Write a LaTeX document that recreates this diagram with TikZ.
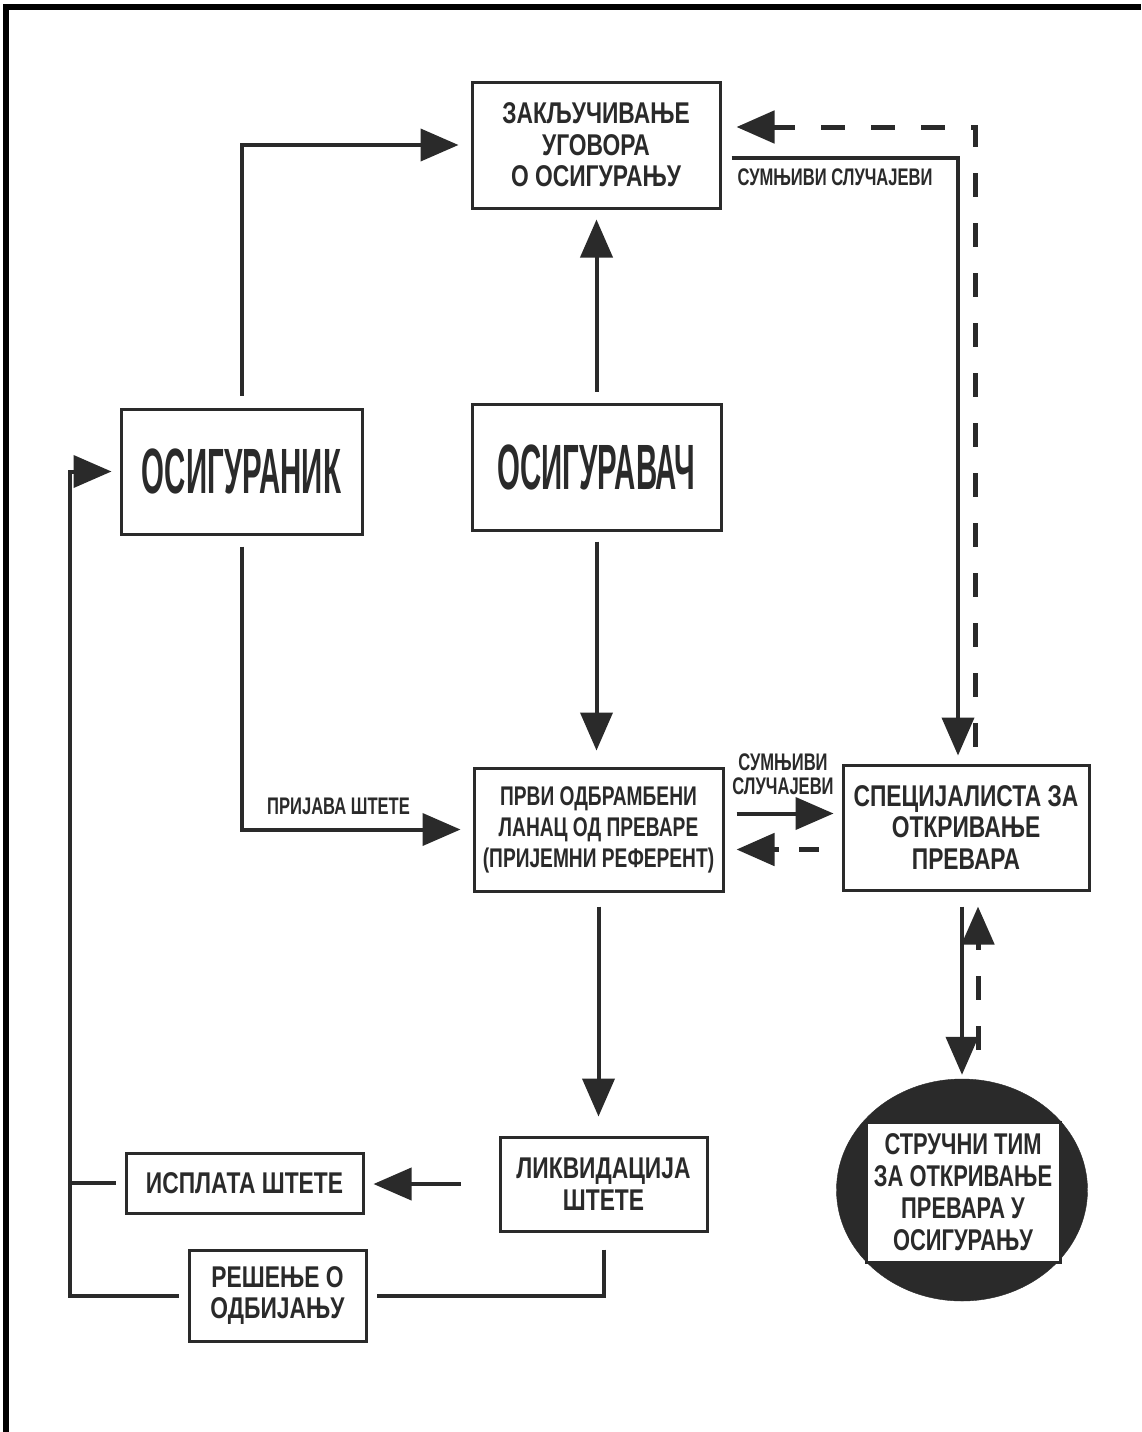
\documentclass[tikz,border=0pt]{standalone}
\usepackage{fontspec}
\setmainfont{Liberation Sans}
\newfontfamily\boxfnt[FakeStretch=0.76]{Liberation Sans}
\newfontfamily\ifnt[FakeStretch=0.73]{Liberation Sans}
\newfontfamily\dfnt[FakeStretch=0.71]{Liberation Sans}
\newfontfamily\bigfnt[FakeStretch=0.46]{Liberation Sans}
\newfontfamily\lblfnt[FakeStretch=0.69]{Liberation Sans}
\usetikzlibrary{arrows.meta,shapes.geometric}
\definecolor{ink}{HTML}{2a2a2a}
\begin{document}
\begin{tikzpicture}[x=1pt,y=-1pt,
  box/.style={draw=ink, line width=3pt, fill=white, align=center, inner sep=0pt, text=ink},
  txt/.style={font={\boxfnt\bfseries\fontsize{30}{31.5}\selectfont}},
  itxt/.style={font={\ifnt\bfseries\fontsize{30}{32}\selectfont}},
  dtxt/.style={font={\dfnt\bfseries\fontsize{27}{31}\selectfont}},
  bigtxt/.style={font={\bigfnt\bfseries\fontsize{64}{64}\selectfont}},
  lbl/.style={font={\lblfnt\bfseries\fontsize{24}{24}\selectfont}, text=ink, inner sep=0pt, align=center},
  conn/.style={draw=ink, line width=4pt, -{Triangle[length=38pt,width=32pt]}},
  dconn/.style={conn, line width=5pt, dash pattern=on 24pt off 26pt},
  pline/.style={draw=ink, line width=4pt},
]
\useasboundingbox (0,0) rectangle (1141,1432);
\fill[white] (0,0) rectangle (1141,1432);
\fill[black] (3,4) rectangle (1141,10);
\fill[black] (3,4) rectangle (9,1432);

\node[box, txt, minimum width=248pt, minimum height=126pt] (A) at (596,145) {ЗАКЉУЧИВАЊЕ\\УГОВОРА\\О ОСИГУРАЊУ};
\node[box, bigtxt, minimum width=241pt, minimum height=125pt] (B) at (241.5,471.5) {ОСИГУРАНИК};
\node[box, bigtxt, minimum width=249pt, minimum height=126pt] (C) at (596.5,467) {ОСИГУРАВАЧ};
\node[box, dtxt, minimum width=249pt, minimum height=123pt] (D) at (598.5,829.5) {ПРВИ ОДБРАМБЕНИ\\ЛАНАЦ ОД ПРЕВАРЕ\\(ПРИЈЕМНИ РЕФЕРЕНТ)};
\node[box, txt, minimum width=246pt, minimum height=125pt] (E) at (966,827.5) {СПЕЦИЈАЛИСТА ЗА\\ОТКРИВАЊЕ\\ПРЕВАРА};
\node[box, txt, minimum width=207pt, minimum height=94pt] (F) at (603.5,1184) {ЛИКВИДАЦИЈА\\ШТЕТЕ};
\node[box, txt, minimum width=237pt, minimum height=60pt] (G) at (244.5,1183) {ИСПЛАТА ШТЕТЕ};
\node[box, txt, minimum width=177pt, minimum height=91pt] (H) at (277.5,1295.5) {РЕШЕЊЕ О\\ОДБИЈАЊУ};
\node[ellipse, fill=ink, draw=ink, minimum width=251pt, minimum height=222pt, inner sep=0pt] (ell) at (962,1190) {};
\node[box, itxt, minimum width=194pt, minimum height=140pt] (I) at (963,1192) {СТРУЧНИ ТИМ\\ЗА ОТКРИВАЊЕ\\ПРЕВАРА У\\ОСИГУРАЊУ};

\coordinate (L) at (70,1295.5);

\draw[conn, shorten <=12pt, shorten >=12pt] (B.north) |- (A.west);
\draw[conn, shorten <=11pt, shorten >=12pt] (B.south) |- node[lbl, pos=0.71, above=13pt] (l1) {ПРИЈАВА ШТЕТЕ} (D.west);
\draw[conn, shorten <=11pt, shorten >=10pt] (C.north) -- (C.north |- A.south);
\draw[conn, shorten <=10pt, shorten >=16pt] (C.south) -- (C.south |- D.north);
\draw[conn, shorten <=14pt, shorten >=19pt] (D.south) -- (D.south |- F.north);
\draw[conn, shorten <=38pt, shorten >=9pt] (F.west) -- (F.west -| G.east);
\draw[pline, shorten <=17pt, shorten >=9pt] (F.south) |- (H.east);
\draw[conn, shorten <=9pt, shorten >=8pt] (H.west) -- (L) |- (B.west);
\draw[pline, shorten <=9pt] (G.west) -- (G.west -| L);

\draw[conn, shorten <=10pt, shorten >=8pt] ([yshift=-13pt]A.east) -| node[lbl, pos=0.24, below=9pt] (l2) {СУМЊИВИ СЛУЧАЈЕВИ} ([xshift=-8pt]E.north);
\draw[dconn, shorten <=17pt, shorten >=15pt] ([xshift=9pt]E.north) |- ([yshift=18pt]A.east);

\draw[conn, shorten <=12pt, shorten >=8pt] ([yshift=16pt]D.east) -- node[lbl, above=17pt] (l3) {СУМЊИВИ\\СЛУЧАЈЕВИ} ([yshift=16pt]D.east -| E.west);
\draw[dconn, dash pattern=on 20pt off 20pt, shorten <=23pt, shorten >=12pt] ([yshift=-22pt]E.west) -- ([yshift=-22pt]E.west -| D.east);

\draw[conn, shorten <=15pt, shorten >=4pt] ([xshift=-4pt]E.south) -- ([xshift=-4pt]E.south |- ell.north);
\draw[dconn, shorten <=29pt, shorten >=15pt] ([xshift=16pt]ell.north) -- ([xshift=16pt]ell.north |- E.south);
\end{tikzpicture}
\end{document}
